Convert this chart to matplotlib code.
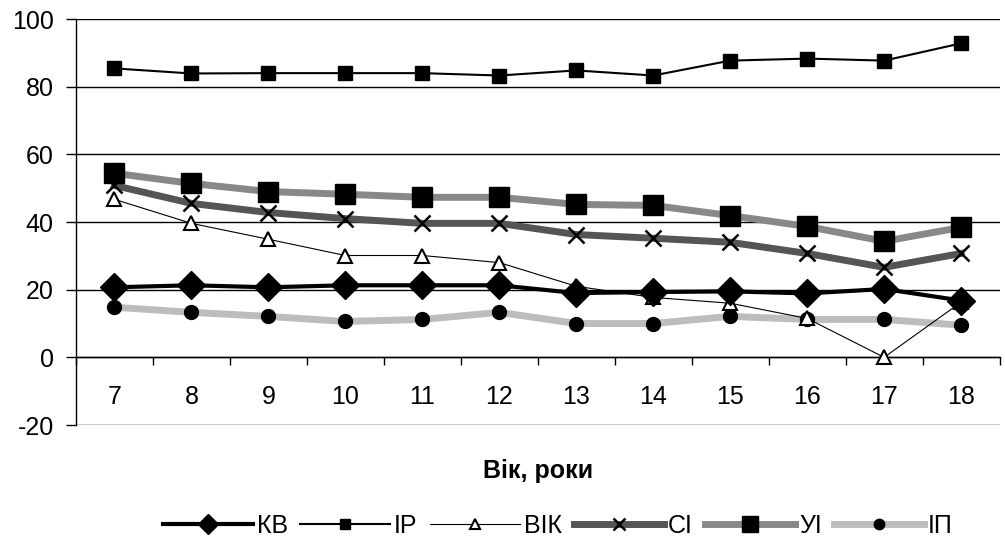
import matplotlib
matplotlib.use("Agg")
import matplotlib.pyplot as plt
import numpy as np

plt.rcParams['font.family'] = ['Liberation Sans', 'DejaVu Sans']

ages = [7, 8, 9, 10, 11, 12, 13, 14, 15, 16, 17, 18]
kv  = [20.7, 21.3, 20.7, 21.3, 21.3, 21.3, 19.0, 19.3, 19.5, 18.9, 20.2, 16.8]
ir  = [85.4, 83.9, 84.0, 84.0, 84.0, 83.3, 84.8, 83.3, 87.7, 88.3, 87.7, 92.8]
vik = [46.7, 39.6, 34.9, 30.1, 30.1, 28.0, 21.0, 17.7, 16.0, 11.5, 0.0, 16.3]
si  = [50.8, 45.5, 42.8, 41.0, 39.6, 39.6, 36.3, 35.2, 34.0, 30.7, 26.6, 30.7]
ui  = [54.4, 51.4, 49.0, 48.2, 47.3, 47.3, 45.2, 44.9, 41.9, 38.7, 34.3, 38.4]
ip  = [14.8, 13.3, 12.1, 10.6, 11.2, 13.3, 10.0, 10.0, 12.1, 11.2, 11.2, 9.5]
labels = ['КВ', 'ІР', 'ВІК', 'СІ', 'УІ', 'ІП']

FS = 18

fig = plt.figure(figsize=(10.05, 5.59), dpi=100)
ax = fig.add_axes([0.0756, 0.2397, 0.919, 0.7263])

x = np.arange(len(ages))

ax.plot(x, si, color='#555555', lw=5, marker='x', ms=11, mec='black', mew=1.8, label=labels[3], zorder=3)
ax.plot(x, ui, color='#888888', lw=5, marker='s', ms=15, mfc='black', mec='black', label=labels[4], zorder=3)
ax.plot(x, ip, color='#bdbdbd', lw=5, marker='o', ms=10, mfc='black', mec='black', label=labels[5], zorder=3)
ax.plot(x, vik, color='black', lw=0.8, marker='^', ms=10, mfc='white', mec='black', mew=1.5, label=labels[2], zorder=4)
ax.plot(x, kv, color='black', lw=3, marker='D', ms=14, mfc='black', mec='black', label=labels[0], zorder=5)
ax.plot(x, ir, color='black', lw=1.5, marker='s', ms=9.5, mfc='black', mec='black', label=labels[1], zorder=5)

ax.set_xlim(-0.5, len(ages) - 0.5)
ax.set_ylim(-20, 100)
yt = np.arange(-20, 101, 20)
ax.set_yticks(yt)
ax.set_yticklabels([str(v) for v in yt])
for v in yt:
    ax.axhline(v, color='black', lw=1, zorder=1)

for s in ['top', 'right']:
    ax.spines[s].set_visible(False)
ax.spines['bottom'].set_position(('data', 0))
ax.spines['bottom'].set_linewidth(1)
ax.spines['left'].set_linewidth(1)

ax.set_xticks(np.arange(len(ages) + 1) - 0.5)
ax.set_xticklabels([])
ax.set_xticks(x, minor=True)
ax.set_xticklabels([str(a) for a in ages], minor=True)
ax.tick_params(axis='x', which='major', direction='out', length=6, width=1)
ax.tick_params(axis='x', which='minor', length=0, pad=20, labelsize=FS)
ax.tick_params(axis='y', direction='out', length=7, width=1, labelsize=FS, pad=9)

fig.text(0.5355, 1 - 471 / 559, 'Вік, роки', ha='center', va='center', fontsize=FS, fontweight='bold')

h, l = ax.get_legend_handles_labels()
order = [l.index(n) for n in labels]
fig.legend([h[i] for i in order], [l[i] for i in order], loc='center', bbox_to_anchor=(0.555, 1 - 526 / 559),
           ncol=6, frameon=False, fontsize=FS, handlelength=3.6, handletextpad=0.15, columnspacing=0.5,
           markerscale=0.75)

fig.savefig('out.png', dpi=100)
